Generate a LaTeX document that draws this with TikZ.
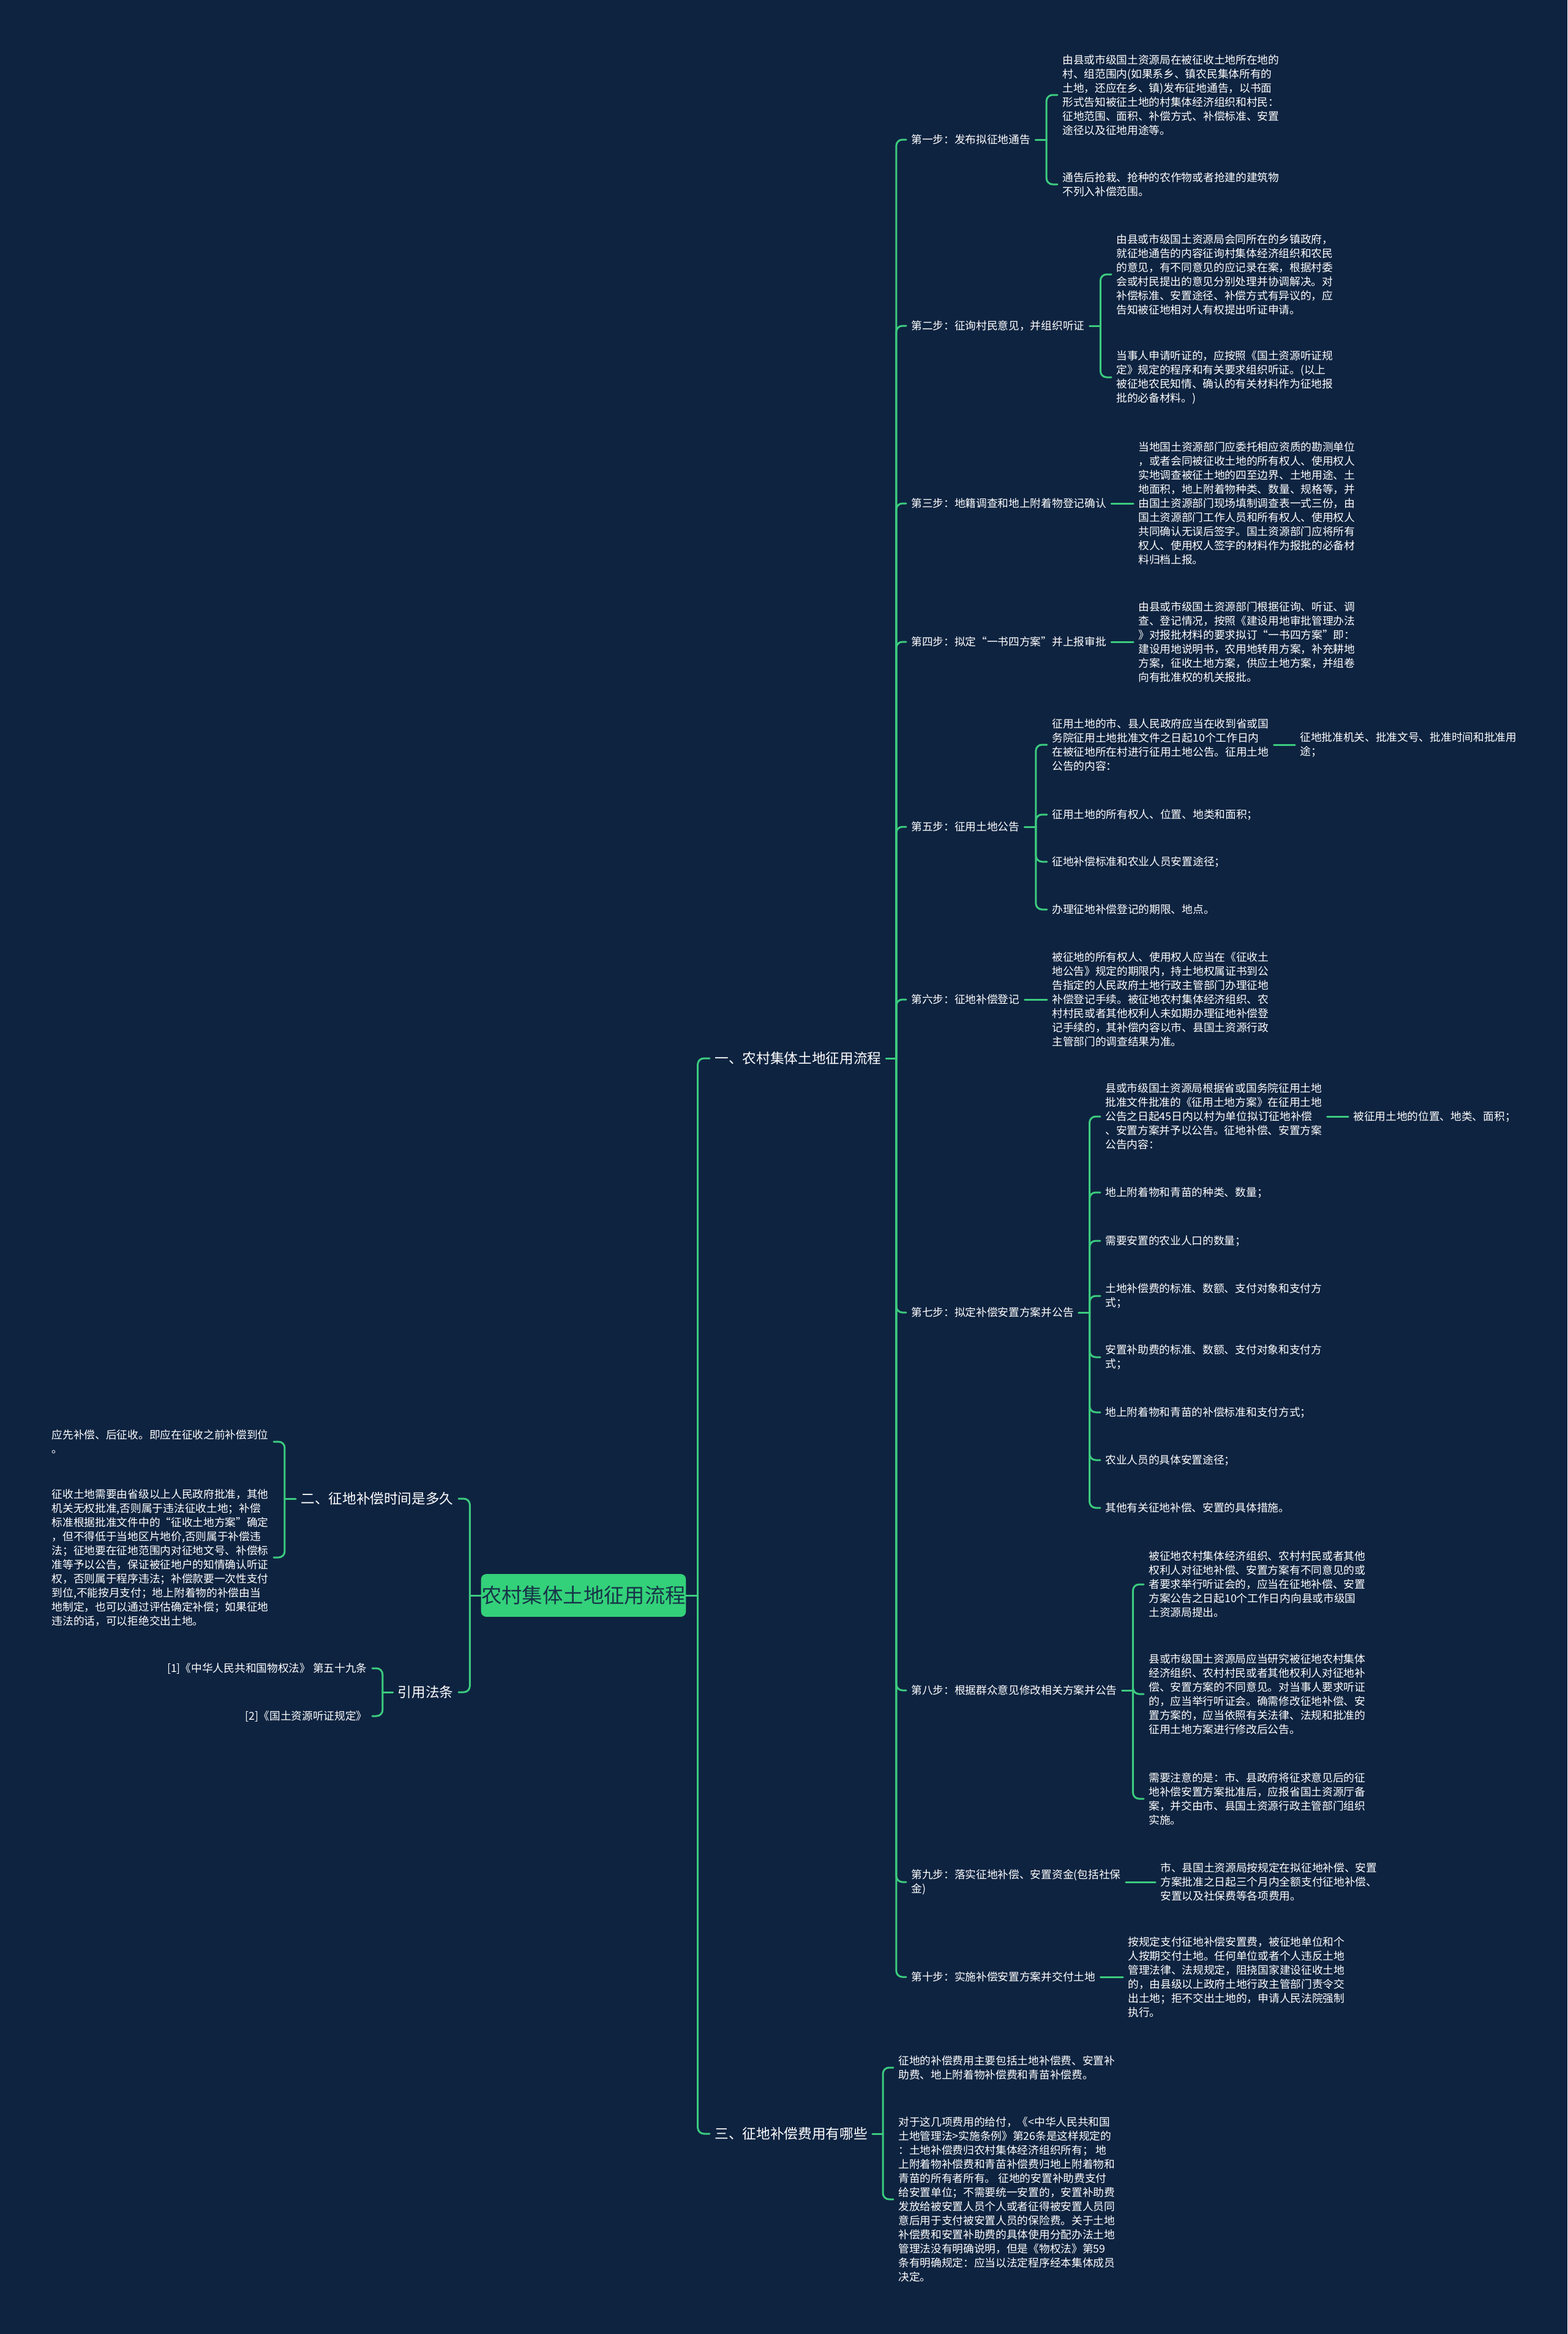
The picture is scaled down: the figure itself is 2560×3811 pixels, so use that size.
\documentclass[tikz,border=0pt]{standalone}
\usepackage{fontspec}
\setmainfont{Noto Sans CJK SC}
\usetikzlibrary{calc}
\definecolor{bgc}{HTML}{0E2340}
\definecolor{lnc}{HTML}{3CCB7F}
\definecolor{rootc}{HTML}{33D17A}
\definecolor{roottxt}{HTML}{173448}
\newcommand{\linkR}[2]{%
  \path ($(#1.east)!0.5!(#2.west)$) coordinate (tmpm);
  \draw[conn] (#1.east) -- (tmpm |- #1.east);
  \draw[conn,rounded corners=0.2cm] (tmpm |- #1.east) |- (#2.west);
}
\newcommand{\linkL}[2]{%
  \path ($(#1.west)!0.5!(#2.east)$) coordinate (tmpm);
  \draw[conn] (#1.west) -- (tmpm |- #1.west);
  \draw[conn,rounded corners=0.2cm] (tmpm |- #1.west) |- (#2.east);
}
\newcommand{\linkS}[2]{\draw[conn] (#1.east) -- (#2.west);}
\begin{document}
\begin{tikzpicture}[x=0.02cm,y=-0.02cm,
  txt/.style={text=white, font=\fontsize{10.07pt}{13.09pt}\selectfont, align=left, inner xsep=0.16cm, inner ysep=0pt},
  rt/.style={txt, anchor=west},
  lt/.style={txt, anchor=east},
  brR/.style={text=white, font=\fontsize{12.9pt}{16pt}\selectfont, inner xsep=0.16cm, inner ysep=0pt, anchor=west},
  brL/.style={text=white, font=\fontsize{12.9pt}{16pt}\selectfont, inner xsep=0.16cm, inner ysep=0pt, anchor=east},
  conn/.style={draw=lnc, line width=0.06cm, line cap=round},
  rootbox/.style={fill=rootc, draw=rootc, rounded corners=0.16cm, minimum width=6.64cm, minimum height=1.38cm, inner sep=0pt, text=roottxt, font=\fontsize{19pt}{22pt}\selectfont}
]
\fill[bgc] (0,0) rectangle (2560,3811);
\useasboundingbox (0,0) rectangle (2560,3811);

% root and main branches
\node[rootbox] (root) at (953,2605) {农村集体土地征用流程};
\node[brR] (b1) at (1159,1728) {一、农村集体土地征用流程};
\node[brR] (b3) at (1159,3484) {三、征地补偿费用有哪些};
\node[brL] (b2) at (749,2447) {二、征地补偿时间是多久};
\node[brL] (b4) at (749,2763) {引用法条};

% steps
\node[rt] (s1) at (1480,228) {第一步：发布拟征地通告};
\node[rt] (s2) at (1480,532) {第二步：征询村民意见，并组织听证};
\node[rt] (s3) at (1480,822) {第三步：地籍调查和地上附着物登记确认};
\node[rt] (s4) at (1480,1048) {第四步：拟定“一书四方案”并上报审批};
\node[rt] (s5) at (1480,1350) {第五步：征用土地公告};
\node[rt] (s6) at (1480,1632) {第六步：征地补偿登记};
\node[rt] (s7) at (1480,2143) {第七步：拟定补偿安置方案并公告};
\node[rt] (s8) at (1480,2760) {第八步：根据群众意见修改相关方案并公告};
\node[rt] (s9) at (1480,3073) {第九步：落实征地补偿、安置资金(包括社保\\金)};
\node[rt] (s10) at (1480,3228) {第十步：实施补偿安置方案并交付土地};

% step 1
\node[rt] (c11) at (1727,155) {由县或市级国土资源局在被征收土地所在地的\\村、组范围内(如果系乡、镇农民集体所有的\\土地，还应在乡、镇)发布征地通告，以书面\\形式告知被征土地的村集体经济组织和村民：\\征地范围、面积、补偿方式、补偿标准、安置\\途径以及征地用途等。};
\node[rt] (c12) at (1727,301) {通告后抢栽、抢种的农作物或者抢建的建筑物\\不列入补偿范围。};
% step 2
\node[rt] (c21) at (1815,448) {由县或市级国土资源局会同所在的乡镇政府，\\就征地通告的内容征询村集体经济组织和农民\\的意见，有不同意见的应记录在案，根据村委\\会或村民提出的意见分别处理并协调解决。对\\补偿标准、安置途径、补偿方式有异议的，应\\告知被征地相对人有权提出听证申请。};
\node[rt] (c22) at (1815,616) {当事人申请听证的，应按照《国土资源听证规\\定》规定的程序和有关要求组织听证。(以上\\被征地农民知情、确认的有关材料作为征地报\\批的必备材料。)};
% step 3
\node[rt] (c31) at (1851,822) {当地国土资源部门应委托相应资质的勘测单位\\，或者会同被征收土地的所有权人、使用权人\\实地调查被征土地的四至边界、土地用途、土\\地面积，地上附着物种类、数量、规格等，并\\由国土资源部门现场填制调查表一式三份，由\\国土资源部门工作人员和所有权人、使用权人\\共同确认无误后签字。国土资源部门应将所有\\权人、使用权人签字的材料作为报批的必备材\\料归档上报。};
% step 4
\node[rt] (c41) at (1851,1048) {由县或市级国土资源部门根据征询、听证、调\\查、登记情况，按照《建设用地审批管理办法\\》对报批材料的要求拟订“一书四方案”即：\\建设用地说明书，农用地转用方案，补充耕地\\方案，征收土地方案，供应土地方案，并组卷\\向有批准权的机关报批。};
% step 5
\node[rt] (c51) at (1710,1216) {征用土地的市、县人民政府应当在收到省或国\\务院征用土地批准文件之日起10个工作日内\\在被征地所在村进行征用土地公告。征用土地\\公告的内容：};
\node[rt] (c511) at (2115,1216) {征地批准机关、批准文号、批准时间和批准用\\途；};
\node[rt] (c52) at (1710,1330) {征用土地的所有权人、位置、地类和面积；};
\node[rt] (c53) at (1710,1407) {征地补偿标准和农业人员安置途径；};
\node[rt] (c54) at (1710,1485) {办理征地补偿登记的期限、地点。};
% step 6
\node[rt] (c61) at (1710,1632) {被征地的所有权人、使用权人应当在《征收土\\地公告》规定的期限内，持土地权属证书到公\\告指定的人民政府土地行政主管部门办理征地\\补偿登记手续。被征地农村集体经济组织、农\\村村民或者其他权利人未如期办理征地补偿登\\记手续的，其补偿内容以市、县国土资源行政\\主管部门的调查结果为准。};
% step 7
\node[rt] (c71) at (1797,1823) {县或市级国土资源局根据省或国务院征用土地\\批准文件批准的《征用土地方案》在征用土地\\公告之日起45日内以村为单位拟订征地补偿\\、安置方案并予以公告。征地补偿、安置方案\\公告内容：};
\node[rt] (c711) at (2202,1823) {被征用土地的位置、地类、面积；};
\node[rt] (c72) at (1797,1947) {地上附着物和青苗的种类、数量；};
\node[rt] (c73) at (1797,2026) {需要安置的农业人口的数量；};
\node[rt] (c74) at (1797,2116) {土地补偿费的标准、数额、支付对象和支付方\\式；};
\node[rt] (c75) at (1797,2216) {安置补助费的标准、数额、支付对象和支付方\\式；};
\node[rt] (c76) at (1797,2306) {地上附着物和青苗的补偿标准和支付方式；};
\node[rt] (c77) at (1797,2384) {农业人员的具体安置途径；};
\node[rt] (c78) at (1797,2462) {其他有关征地补偿、安置的具体措施。};
% step 8
\node[rt] (c81) at (1868,2587) {被征地农村集体经济组织、农村村民或者其他\\权利人对征地补偿、安置方案有不同意见的或\\者要求举行听证会的，应当在征地补偿、安置\\方案公告之日起10个工作日内向县或市级国\\土资源局提出。};
\node[rt] (c82) at (1868,2766) {县或市级国土资源局应当研究被征地农村集体\\经济组织、农村村民或者其他权利人对征地补\\偿、安置方案的不同意见。对当事人要求听证\\的，应当举行听证会。确需修改征地补偿、安\\置方案的，应当依照有关法律、法规和批准的\\征用土地方案进行修改后公告。};
\node[rt] (c83) at (1868,2937) {需要注意的是：市、县政府将征求意见后的征\\地补偿安置方案批准后，应报省国土资源厅备\\案，并交由市、县国土资源行政主管部门组织\\实施。};
% step 9
\node[rt] (c91) at (1887,3073) {市、县国土资源局按规定在拟征地补偿、安置\\方案批准之日起三个月内全额支付征地补偿、\\安置以及社保费等各项费用。};
% step 10
\node[rt] (c101) at (1834,3228) {按规定支付征地补偿安置费，被征地单位和个\\人按期交付土地。任何单位或者个人违反土地\\管理法律、法规规定，阻挠国家建设征收土地\\的，由县级以上政府土地行政主管部门责令交\\出土地；拒不交出土地的，申请人民法院强制\\执行。};

% branch 3
\node[rt] (t1) at (1459,3376) {征地的补偿费用主要包括土地补偿费、安置补\\助费、地上附着物补偿费和青苗补偿费。};
\node[rt] (t2) at (1459,3591) {对于这几项费用的给付，《<中华人民共和国\\土地管理法>实施条例》第26条是这样规定的\\：土地补偿费归农村集体经济组织所有； 地\\上附着物补偿费和青苗补偿费归地上附着物和\\青苗的所有者所有。 征地的安置补助费支付\\给安置单位；不需要统一安置的，安置补助费\\发放给被安置人员个人或者征得被安置人员同\\意后用于支付被安置人员的保险费。关于土地\\补偿费和安置补助费的具体使用分配办法土地\\管理法没有明确说明，但是《物权法》第59\\条有明确规定：应当以法定程序经本集体成员\\决定。};

% branch 2 (left)
\node[lt] (l1) at (447,2354) {应先补偿、后征收。即应在征收之前补偿到位\\。};
\node[lt] (l2) at (447,2543) {征收土地需要由省级以上人民政府批准，其他\\机关无权批准,否则属于违法征收土地；补偿\\标准根据批准文件中的“征收土地方案”确定\\，但不得低于当地区片地价,否则属于补偿违\\法；征地要在征地范围内对征地文号、补偿标\\准等予以公告，保证被征地户的知情确认听证\\权，否则属于程序违法；补偿款要一次性支付\\到位,不能按月支付；地上附着物的补偿由当\\地制定，也可以通过评估确定补偿；如果征地\\违法的话，可以拒绝交出土地。};
% branch 4 (left)
\node[lt, align=right] (r1) at (608,2724) {[1]《中华人民共和国物权法》 第五十九条};
\node[lt, align=right] (r2) at (608,2802) {[2]《国土资源听证规定》};

% connectors
\linkR{root}{b1}
\linkR{root}{b3}
\linkL{root}{b2}
\linkL{root}{b4}
\foreach \s in {s1,s2,s3,s4,s5,s6,s7,s8,s9,s10} {\linkR{b1}{\s}}
\linkR{s1}{c11}
\linkR{s1}{c12}
\linkR{s2}{c21}
\linkR{s2}{c22}
\linkS{s3}{c31}
\linkS{s4}{c41}
\linkR{s5}{c51}
\linkR{s5}{c52}
\linkR{s5}{c53}
\linkR{s5}{c54}
\linkS{c51}{c511}
\linkS{s6}{c61}
\linkR{s7}{c71}
\linkR{s7}{c72}
\linkR{s7}{c73}
\linkR{s7}{c74}
\linkR{s7}{c75}
\linkR{s7}{c76}
\linkR{s7}{c77}
\linkR{s7}{c78}
\linkS{c71}{c711}
\linkR{s8}{c81}
\linkR{s8}{c82}
\linkR{s8}{c83}
\linkS{s9}{c91}
\linkS{s10}{c101}
\linkR{b3}{t1}
\linkR{b3}{t2}
\linkL{b2}{l1}
\linkL{b2}{l2}
\linkL{b4}{r1}
\linkL{b4}{r2}
\end{tikzpicture}
\end{document}
